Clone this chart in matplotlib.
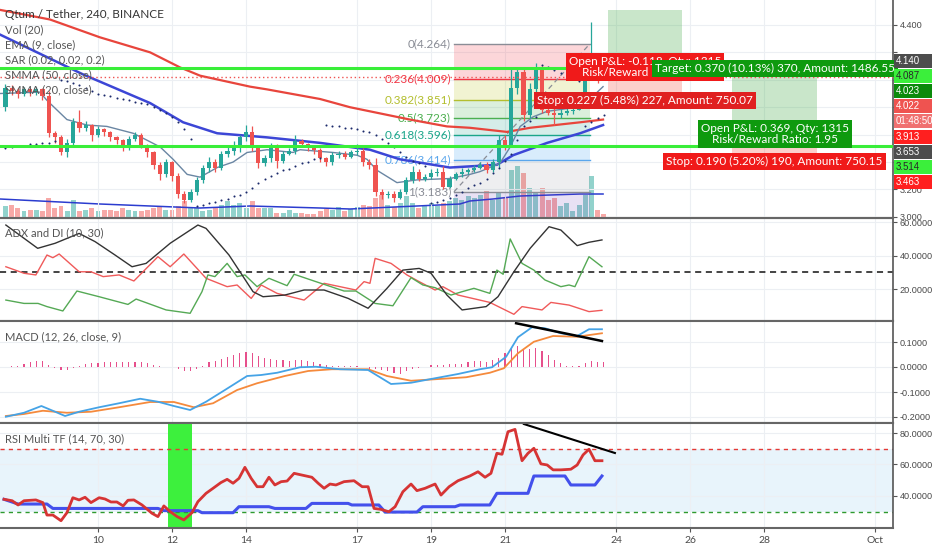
import numpy as np
import matplotlib
matplotlib.use("Agg")
import matplotlib.pyplot as plt
from matplotlib.patches import Rectangle

plt.rcParams['font.family'] = ['Lato', 'DejaVu Sans']

# ---------------------------------------------------------------- data
# 4h candles, Qtum/USDT (day of month, September)
opens = [3.80, 3.94, 3.92, 3.90, 3.93, 3.91, 3.93, 3.88, 3.61, 3.58,
         3.47, 3.54, 3.69, 3.65, 3.67, 3.60, 3.64, 3.62, 3.58, 3.56,
         3.51, 3.57, 3.60, 3.52, 3.47, 3.38, 3.31, 3.40, 3.30, 3.17,
         3.12, 3.18, 3.27, 3.36, 3.40, 3.36, 3.46, 3.48, 3.50, 3.58,
         3.62, 3.50, 3.39, 3.43, 3.52, 3.41, 3.46, 3.48, 3.55, 3.53,
         3.51, 3.49, 3.43, 3.40, 3.45, 3.46, 3.44, 3.47, 3.48, 3.40,
         3.38, 3.18, 3.16, 3.17, 3.14, 3.18, 3.27, 3.33, 3.28, 3.29,
         3.32, 3.33, 3.22, 3.28, 3.31, 3.33, 3.34, 3.36, 3.38, 3.34,
         3.40, 3.56, 3.52, 3.94, 4.06, 3.74, 3.93, 4.07, 3.78, 3.76,
         3.74, 3.76, 3.77, 3.78, 3.83, 4.02, 4.16, 4.05]
closes = [3.94, 3.92, 3.90, 3.93, 3.91, 3.93, 3.88, 3.61, 3.58, 3.47,
          3.54, 3.69, 3.65, 3.67, 3.60, 3.64, 3.62, 3.58, 3.56, 3.51,
          3.57, 3.60, 3.52, 3.47, 3.38, 3.31, 3.40, 3.30, 3.17, 3.12,
          3.18, 3.27, 3.36, 3.40, 3.36, 3.46, 3.48, 3.50, 3.58, 3.62,
          3.50, 3.39, 3.43, 3.52, 3.41, 3.46, 3.48, 3.55, 3.53, 3.51,
          3.49, 3.43, 3.40, 3.45, 3.46, 3.44, 3.47, 3.48, 3.40, 3.38,
          3.18, 3.16, 3.17, 3.14, 3.18, 3.27, 3.33, 3.28, 3.29, 3.32,
          3.33, 3.22, 3.28, 3.31, 3.33, 3.34, 3.36, 3.38, 3.34, 3.40,
          3.56, 3.52, 3.94, 4.06, 3.74, 3.93, 4.07, 3.78, 3.76, 3.74,
          3.76, 3.77, 3.78, 3.83, 4.00, 4.16, 4.05, 4.022]
highs = [3.97, 3.96, 3.94, 3.95, 3.94, 3.95, 3.94, 3.92, 3.63, 3.60,
         3.57, 3.72, 3.78, 3.70, 3.68, 3.66, 3.65, 3.63, 3.59, 3.57,
         3.59, 3.62, 3.61, 3.53, 3.48, 3.40, 3.42, 3.41, 3.32, 3.19,
         3.20, 3.29, 3.38, 3.44, 3.42, 3.48, 3.51, 3.55, 3.60, 3.67,
         3.66, 3.52, 3.45, 3.54, 3.53, 3.48, 3.50, 3.60, 3.57, 3.54,
         3.52, 3.50, 3.44, 3.47, 3.48, 3.48, 3.49, 3.53, 3.50, 3.42,
         3.43, 3.20, 3.19, 3.19, 3.20, 3.29, 3.37, 3.35, 3.31, 3.35,
         3.36, 3.37, 3.30, 3.33, 3.36, 3.36, 3.38, 3.40, 3.40, 3.42,
         3.60, 3.60, 4.09, 4.08, 4.08, 3.98, 4.12, 4.10, 3.84, 3.83,
         3.79, 3.80, 3.80, 3.86, 4.03, 4.42, 4.17, 4.06]
lows = [3.77, 3.89, 3.87, 3.88, 3.88, 3.89, 3.85, 3.58, 3.54, 3.45,
        3.44, 3.52, 3.62, 3.63, 3.55, 3.58, 3.59, 3.55, 3.53, 3.48,
        3.49, 3.55, 3.50, 3.44, 3.35, 3.27, 3.29, 3.26, 3.14, 3.10,
        3.11, 3.16, 3.25, 3.33, 3.33, 3.34, 3.44, 3.45, 3.47, 3.55,
        3.48, 3.36, 3.37, 3.40, 3.36, 3.39, 3.45, 3.46, 3.51, 3.48,
        3.46, 3.40, 3.37, 3.38, 3.43, 3.42, 3.43, 3.45, 3.37, 3.35,
        3.15, 3.13, 3.14, 3.11, 3.13, 3.17, 3.25, 3.26, 3.26, 3.28,
        3.30, 3.20, 3.21, 3.27, 3.29, 3.31, 3.33, 3.35, 3.32, 3.33,
        3.36, 3.49, 3.52, 3.90, 3.70, 3.72, 3.90, 3.76, 3.74, 3.67,
        3.72, 3.74, 3.75, 3.78, 3.82, 4.00, 3.98, 4.01]
volumes = [12, 13, 10, 7, 8, 8, 7, 20, 10, 12,
           7, 18, 7, 8, 10, 7, 8, 8, 7, 10,
           8, 7, 7, 8, 10, 12, 8, 8, 12, 17,
           10, 10, 7, 8, 10, 13, 17, 13, 15, 10,
           17, 10, 10, 10, 5, 5, 8, 5, 5, 4,
           4, 7, 9, 8, 11, 7, 9, 11, 13, 12,
           20, 23, 13, 11, 15, 22, 15, 10, 12, 15,
           12, 15, 17, 20, 18, 22, 20, 23, 27, 18,
           25, 20, 48, 52, 45, 30, 25, 30, 18, 20,
           12, 15, 7, 13, 23, 42, 8, 4]
sar = [3.50, 3.51, 3.52, 3.52, 3.53, 3.53, 3.54, 3.54, 3.55,
       4.00, 3.99, 3.98, 3.96, 3.94, 3.92, 3.90, 3.89, 3.88, 3.87, 3.86,
       3.85, 3.84, 3.83, 3.82, 3.80, 3.78, 3.76, 3.73, 3.69, 3.64, 3.57,
       3.08, 3.09, 3.10, 3.11, 3.12, 3.13, 3.15, 3.16, 3.18, 3.21, 3.25,
       3.28, 3.30, 3.32, 3.34, 3.35, 3.37, 3.39, 3.40, 3.42, 3.43,
       3.67, 3.66, 3.66, 3.65, 3.65, 3.64, 3.63, 3.62, 3.60, 3.57, 3.54,
       3.51, 3.47, 3.44, 3.41, 3.39, 3.37,
       3.10, 3.11, 3.12, 3.14, 3.16, 3.18, 3.21, 3.23, 3.25, 3.28, 3.32,
       3.36, 3.41, 3.46, 3.56, 3.66, 3.70, 3.73,
       4.11, 4.09, 4.07, 4.05, 4.03, 4.01, 3.99,
       3.66, 3.69, 3.72, 3.74]
first_candle_day = 7.5

# moving averages (day, value)
smma50_days = [7.35, 8.70, 10.05, 11.41, 12.22, 12.76, 14.11, 14.57, 16.0, 16.81,
               18.43, 19.43, 20.05, 21.05, 21.68, 23.03, 23.65]
smma50_vals = [4.51, 4.44, 4.31, 4.20, 4.09, 4.03, 3.95, 3.93, 3.86, 3.80,
               3.71, 3.66, 3.65, 3.62, 3.65, 3.69, 3.71]
smma20_days = [7.35, 9.59, 11.41, 12.30, 13.22, 14.57, 16.0, 17.35, 18.16, 19.51,
               20.78, 21.22, 22.14, 23.03, 23.65]
smma20_vals = [4.33, 4.04, 3.83, 3.69, 3.61, 3.58, 3.54, 3.49, 3.42, 3.36,
               3.38, 3.45, 3.54, 3.61, 3.67]
ema9_days = [7.35, 8.43, 8.62, 9.16, 9.70, 10.24, 10.95, 11.32, 11.68, 12.03,
             12.41, 12.76, 13.22, 13.65, 14.03, 14.57, 15.27, 15.46, 16.35, 17.0,
             17.27, 17.54, 18.08, 18.62, 19.51, 20.05, 20.32, 20.86, 21.14, 21.41,
             21.76, 22.14, 22.68, 23.22, 23.65]
ema9_vals = [3.90, 3.91, 3.85, 3.71, 3.67, 3.66, 3.61, 3.56, 3.51, 3.42,
             3.31, 3.29, 3.36, 3.40, 3.47, 3.49, 3.47, 3.49, 3.47, 3.45,
             3.42, 3.34, 3.25, 3.27, 3.28, 3.31, 3.33, 3.39, 3.51, 3.66,
             3.73, 3.77, 3.79, 3.84, 3.95]
volma_days = [7.35, 10.05, 11.41, 12.76, 14.11, 16.0, 16.81, 18.62, 19.78, 20.05,
              20.67, 21.41, 23.03, 23.65]
volma_vals = [19, 14, 12, 10, 12, 10, 9, 12, 14, 17, 19, 22, 24, 24]

# fibonacci retracement
fib_ratios = ['0', '0.236', '0.382', '0.5', '0.618', '0.786', '1']
fib_prices = [4.264, 4.009, 3.851, 3.723, 3.596, 3.414, 3.183]
fib_start, fib_end = 19.62, 23.30

# horizontal levels
green_levels = [4.087, 3.514]
last_price = 4.022

# long positions: start day, end day, entry, target, stop
positions = [(23.78, 25.78, 4.140, 4.510, 3.913),
             (27.14, 29.43, 3.653, 4.023, 3.463)]

# ADX and DI
adx_days = [7.51, 8.37, 8.84, 9.49, 9.92, 10.46, 10.92, 11.30, 11.95, 12.70, 12.92, 13.54,
            14.19, 14.46, 15.05, 15.57, 16.11, 16.76, 17.30, 17.81, 18.24, 18.68, 19.0,
            19.43, 19.84, 20.49, 20.81, 21.24, 21.68, 22.19, 22.51, 22.95, 23.27, 23.62]
adx_vals = [58.2, 44.3, 47.3, 53.2, 48.3, 40.3, 33.3, 35.3, 47.3, 58.2, 56.2, 40.3,
            18.4, 15.4, 16.4, 19.4, 19.4, 14.4, 8.5, 20.4, 31.3, 32.3, 29.4,
            16.4, 7.5, 9.5, 15.4, 30.3, 44.3, 57.2, 55.2, 45.9, 47.9, 49.3]
dim_days = [7.51, 8.00, 8.32, 8.62, 8.78, 8.95, 9.49, 9.81, 10.14, 10.57, 10.97, 11.62,
            11.95, 12.32, 12.92, 13.49, 13.76, 14.14, 14.41, 14.84, 15.57, 16.11, 16.54,
            16.97, 17.19, 17.35, 17.49, 17.92, 18.35, 18.68, 19.11, 19.32, 19.73, 20.59,
            21.24, 21.46, 22.0, 22.24, 22.73, 23.27, 23.62]
dim_vals = [33.3, 29.4, 28.4, 40.3, 38.7, 40.9, 30.3, 30.3, 27.4, 28.4, 24.8, 39.3,
            33.3, 40.9, 26.4, 21.4, 22.4, 14.4, 22.4, 17.4, 13.4, 23.4, 21.4,
            19.4, 24.4, 23.4, 38.3, 35.3, 28.4, 24.4, 19.4, 21.4, 16.4, 12.0,
            4.9, 9.5, 7.5, 12.0, 10.4, 6.5, 7.3]
dip_days = [7.51, 8.00, 8.38, 8.62, 9.05, 9.43, 10.03, 10.81, 11.03, 11.84, 12.49, 12.81,
            12.97, 13.16, 13.49, 13.76, 13.97, 14.30, 14.62, 15.11, 15.30, 15.89, 16.65,
            16.97, 17.49, 17.97, 18.46, 18.78, 19.11, 19.54, 19.84, 20.16, 20.59, 20.78,
            20.95, 21.14, 21.46, 21.78, 22.08, 22.51, 22.73, 22.89, 23.27, 23.62]
dip_vals = [13.4, 11.4, 11.4, 9.5, 6.9, 18.8, 15.4, 10.8, 14.0, 7.5, 5.5, 18.4,
            28.4, 27.4, 35.3, 27.4, 28.4, 21.4, 26.4, 22.0, 28.8, 24.4, 18.8,
            18.8, 11.4, 10.0, 26.8, 22.4, 20.8, 16.4, 18.4, 20.4, 17.4, 31.3,
            28.8, 49.9, 35.3, 31.3, 25.4, 21.4, 22.4, 21.4, 39.3, 33.3]
adx_level = 30

# MACD
macd_days = [7.51, 8.00, 8.47, 8.73, 9.11, 9.49, 10.03, 10.57, 11.14, 11.62, 12.05, 12.49,
             12.92, 13.43, 14.03, 14.41, 14.84, 15.46, 15.89, 16.54, 17.30, 17.92, 18.46,
             19.11, 19.73, 20.32, 20.65, 21.03, 21.35, 21.73, 22.08, 22.51, 22.95, 23.27, 23.62]
macd_vals = [-0.199, -0.183, -0.156, -0.172, -0.196, -0.179, -0.161, -0.145, -0.127, -0.139,
             -0.156, -0.172, -0.139, -0.092, -0.036, -0.032, -0.023, -0.001, 0.001, -0.009,
             -0.012, -0.068, -0.063, -0.045, -0.028, -0.009, -0.001, 0.041, 0.119, 0.159,
             0.155, 0.135, 0.124, 0.151, 0.151]
signal_days = [7.51, 8.00, 8.51, 9.16, 9.81, 10.57, 11.41, 12.05, 12.59, 13.11, 13.76, 14.30,
               15.05, 15.68, 16.32, 17.30, 17.81, 18.46, 19.11, 19.95, 20.59, 20.97, 21.35,
               21.78, 22.30, 22.95, 23.62]
signal_vals = [-0.196, -0.188, -0.175, -0.183, -0.179, -0.161, -0.140, -0.140, -0.161, -0.145,
               -0.092, -0.065, -0.036, -0.016, -0.009, -0.009, -0.036, -0.055, -0.049, -0.041,
               -0.023, -0.005, 0.055, 0.101, 0.124, 0.121, 0.135]
macd_hist = [0.000, 0.003, 0.005, 0.012, 0.019, 0.025, 0.023, 0.007, -0.004, -0.011,
             -0.013, -0.004, 0.005, 0.012, 0.016, 0.016, 0.021, 0.021, 0.020, 0.019,
             0.019, 0.021, 0.019, 0.016, 0.009, 0.003, 0.000, 0.000, -0.008, -0.017,
             -0.017, -0.008, 0.003, 0.019, 0.025, 0.032, 0.040, 0.047, 0.056, 0.059,
             0.056, 0.045, 0.036, 0.032, 0.027, 0.027, 0.024, 0.029, 0.027, 0.023,
             0.019, 0.013, 0.007, 0.005, 0.005, 0.005, 0.005, 0.005, 0.000, -0.008,
             -0.008, -0.013, -0.017, -0.024, -0.027, -0.017, -0.008, -0.004, 0.000, 0.007,
             0.007, 0.009, 0.012, 0.012, 0.013, 0.019, 0.023, 0.023, 0.020, 0.027,
             0.036, 0.056, 0.072, 0.085, 0.072, 0.072, 0.076, 0.063, 0.049, 0.027,
             0.016, 0.005, 0.003, 0.003, 0.016, 0.023, 0.019, 0.019]
macd_trend_days = [21.30, 23.62]
macd_trend_vals = [0.175, 0.104]

# RSI multi timeframe
rsi_days = [7.46, 7.68, 7.84, 8.00, 8.32, 8.51, 8.62, 8.78, 9.00, 9.16, 9.32, 9.49, 9.65,
            9.81, 10.03, 10.19, 10.35, 10.51, 10.68, 10.81, 10.97, 11.19, 11.46, 11.62,
            11.78, 11.95, 12.14, 12.32, 12.54, 12.70, 12.92, 13.11, 13.32, 13.49, 13.65,
            13.81, 13.97, 14.14, 14.30, 14.46, 14.62, 14.78, 14.95, 15.11, 15.30, 15.51,
            15.78, 15.95, 16.11, 16.27, 16.43, 16.65, 16.92, 17.14, 17.30, 17.46, 17.65,
            17.86, 18.03, 18.24, 18.46, 18.62, 18.84, 19.11, 19.27, 19.49, 19.73, 20.05,
            20.27, 20.46, 20.62, 20.78, 20.92, 21.08, 21.27, 21.46, 21.62, 21.78, 21.97,
            22.14, 22.30, 22.51, 22.78, 22.95, 23.11, 23.27, 23.43, 23.62]
rsi_vals = [37.9, 37.0, 34.3, 37.0, 37.5, 35.8, 27.9, 27.9, 24.3, 29.4, 38.9, 37.5, 39.2,
            35.8, 38.9, 38.1, 36.2, 36.2, 33.7, 37.3, 37.5, 34.3, 29.0, 26.9,
            33.7, 30.1, 26.9, 24.8, 29.4, 36.4, 41.7, 44.9, 48.5, 50.6, 48.1,
            51.2, 58.2, 51.2, 45.9, 45.9, 51.9, 47.0, 49.1, 49.5, 54.4, 53.3,
            51.9, 48.1, 44.9, 47.6, 47.0, 49.1, 49.7, 45.9, 45.9, 32.1, 31.5,
            30.0, 33.2, 42.7, 47.6, 43.4, 44.9, 47.6, 40.6, 45.9, 49.7, 52.7,
            55.4, 51.9, 54.4, 67.1, 66.5, 80.8, 82.3, 62.4, 67.1, 70.3, 60.4,
            59.7, 56.6, 56.6, 57.0, 59.7, 66.1, 69.7, 62.4, 62.4]
rsi_htf_days = [7.46, 7.84, 8.62, 8.78, 11.62, 11.78, 12.70, 12.81, 13.65, 13.81, 14.62,
                14.78, 15.62, 15.78, 16.76, 16.86, 17.59, 17.76, 18.62, 18.78, 19.65,
                19.78, 20.59, 20.78, 21.62, 21.78, 22.62, 22.78, 23.43, 23.62]
rsi_htf_vals = [37.9, 34.9, 34.9, 32.1, 32.1, 30.7, 30.7, 29.4, 29.4, 33.2, 33.2,
                32.1, 32.1, 35.3, 35.3, 34.3, 34.3, 29.8, 29.8, 33.2, 33.2,
                34.3, 34.3, 41.7, 41.7, 52.7, 52.7, 47.0, 47.0, 52.7]
rsi_upper, rsi_lower = 70, 30
rsi_highlight = (11.89, 12.54)
rsi_trend_days = [21.51, 23.97]
rsi_trend_vals = [85.7, 67.3]

day_ticks = [10, 12, 14, 17, 19, 21, 24, 26, 28, 31]
day_labels = ['10', '12', '14', '17', '19', '21', '24', '26', '28', 'Oct']

# main price scale: grid levels, and the labels left visible by the price tags
price_ticks = [3.0, 3.2, 3.4, 3.6, 3.8, 4.0, 4.2, 4.4]
price_ticks_shown = [3.0, 3.2, 4.4]

# right-hand price labels: text, price, background, foreground
price_labels = [("4.140", 4.140, '#4d4d4d', 'white'),
                ("4.087", 4.087, '#3bef3b', '#2a2a2a'),
                ("4.023", 4.023, '#0b8a0b', 'white'),
                ("4.022", 4.022, '#ef5350', 'white'),
                ("01:48:50", 4.022, '#f07070', 'white'),
                ("3.913", 3.913, '#ff1f1f', 'white'),
                ("3.653", 3.653, '#4d4d4d', 'white'),
                ("3.514", 3.514, '#3bef3b', '#2a2a2a'),
                ("3.463", 3.463, '#ff1f1f', 'white')]

# ---------------------------------------------------------------- figure
W, H = 932, 550
fig = plt.figure(figsize=(W / 100, H / 100), dpi=100)
fig.patch.set_facecolor('white')

X0, X1 = 7.3514, 31.486
AXW = 893 / W
NUMFONT = ['Liberation Sans', 'DejaVu Sans']
NUMSIZE = 6.6


def px_rect(top, bottom):
    return [0, 1 - bottom / H, AXW, (bottom - top) / H]


ax = fig.add_axes(px_rect(0, 218))
adx_ax = fig.add_axes(px_rect(218, 321), sharex=ax)
macd_ax = fig.add_axes(px_rect(321, 423), sharex=ax)
rsi_ax = fig.add_axes(px_rect(423, 528), sharex=ax)

TXT = '#4a4a4a'
GRID = '#eceff3'
SEP = '#666666'


def style(a, yt, labels, top=True):
    a.set_xlim(X0, X1)
    a.yaxis.tick_right()
    a.set_yticks(yt)
    a.set_yticklabels(labels, fontsize=NUMSIZE, color=TXT, family=NUMFONT)
    a.tick_params(axis='y', length=3, color='#555555', pad=2)
    a.set_xticks(day_ticks)
    a.tick_params(axis='x', length=0, labelbottom=False)
    a.grid(True, color=GRID, lw=0.8)
    a.set_axisbelow(True)
    a.spines['left'].set_visible(False)
    a.spines['right'].set_color('#555555')
    a.spines['right'].set_linewidth(1.2)
    a.spines['top'].set_visible(top)
    a.spines['top'].set_color(SEP)
    a.spines['top'].set_linewidth(1.5)
    a.spines['bottom'].set_color(SEP)
    a.spines['bottom'].set_linewidth(1.5)


def fmt_list(vals, fmt):
    return [fmt % v for v in vals]


# ---------------- main price panel
t = first_candle_day + np.arange(len(closes)) / 6.0
o = np.array(opens)
c = np.array(closes)
up = c >= o

vol_ax = ax.twinx()
ax.set_zorder(vol_ax.get_zorder() + 1)
ax.patch.set_visible(False)
vol_ax.set_ylim(0, 218)
vol_ax.yaxis.set_visible(False)
for s in vol_ax.spines.values():
    s.set_visible(False)
vcol = np.where(up, '#92d2cc', '#f7a9a7')
vol_ax.bar(t, volumes, width=0.135, color=vcol, linewidth=0)
vol_ax.plot(volma_days, volma_vals, color='#2b3ccf', lw=1.1)

ax.set_ylim(2.992, 4.582)
style(ax, price_ticks, [('%.3f' % v) if v in price_ticks_shown else '' for v in price_ticks],
      top=False)

# fib retracement
band_cols = [('#f23645', 0.20), ('#c0ca33', 0.22), ('#4caf50', 0.20), ('#089981', 0.17),
             ('#64b5f6', 0.25), ('#787b86', 0.12)]
for k in range(len(fib_prices) - 1):
    col, al = band_cols[k]
    ax.add_patch(Rectangle((fib_start, fib_prices[k + 1]), fib_end - fib_start,
                           fib_prices[k] - fib_prices[k + 1], facecolor=col, alpha=al,
                           edgecolor='none', zorder=1))
ax.add_patch(Rectangle((fib_start, 2.992), fib_end - fib_start, fib_prices[-1] - 2.992,
                       facecolor='#673ab7', alpha=0.15, edgecolor='none', zorder=1))
fib_line_cols = ['#8a8d96', '#f23645', '#b3be2e', '#4caf50', '#1aa58a', '#5aa6ec', '#8a8d96']
for r, p, col in zip(fib_ratios, fib_prices, fib_line_cols):
    ax.plot([fib_start, fib_end], [p, p], color=col, lw=1, zorder=2)
    ax.text(fib_start - 0.08, p, f"{r}({p:.3f})", color=col, fontsize=8.5,
            ha='right', va='center', zorder=3)
ax.plot([fib_start, fib_end], [fib_prices[-1], fib_prices[0]], color='#8a8d96',
        lw=0.9, ls=(0, (4, 3)), zorder=2)

# position tools
for d0, d1, entry, target, stop in positions:
    ax.add_patch(Rectangle((d0, entry), d1 - d0, target - entry, facecolor='#4caf50',
                           alpha=0.3, edgecolor='none', zorder=1))
    ax.add_patch(Rectangle((d0, stop), d1 - d0, entry - stop, facecolor='#f44336',
                           alpha=0.25, edgecolor='none', zorder=1))

# moving averages
ax.plot(smma50_days, smma50_vals, color='#e8453c', lw=1.6, zorder=4)
ax.plot(smma20_days, smma20_vals, color='#3c46d6', lw=1.8, zorder=4)
ax.plot(ema9_days, ema9_vals, color='#6a86a3', lw=1.0, zorder=4)

# candles
ccol = np.where(up, '#26a69a', '#ef5350')
ax.vlines(t, lows, highs, colors=ccol, lw=0.9, zorder=5)
ax.bar(t, np.maximum(np.abs(c - o), 0.006), bottom=np.minimum(o, c), width=0.11,
       color=ccol, linewidth=0, zorder=6)

# parabolic SAR
ax.scatter(t, sar, s=2.2, color='#1b2a6b', zorder=7, linewidths=0)

# horizontal levels
for p in green_levels:
    ax.axhline(p, color='#39ee39', lw=2.2, zorder=7)
ax.axhline(last_price, color='#ef5350', lw=1.0, ls=(0, (1, 2)), zorder=7)

# position labels
RED_BOX = '#f01a1a'
GREEN_BOX = '#0e9a0e'


def box_label(x, y, text, fc, dy, va):
    ax.annotate(text, xy=(x, y), xytext=(0, dy), textcoords='offset points',
                ha='center', va=va, fontsize=8.5, color='white', linespacing=1.0,
                bbox=dict(boxstyle='square,pad=0.25', fc=fc, ec='none'),
                zorder=20, annotation_clip=False)


p1, p2 = positions
cx1 = (p1[0] + p1[1]) / 2
cx2 = (p2[0] + p2[1]) / 2
box_label(cx1, p1[2], f"Open P&L: {last_price - p1[2]:.3f}, Qty: 1315\n"
          f"Risk/Reward Ratio: {(p1[3] - p1[2]) / (p1[2] - p1[4]):.2f}", RED_BOX, -4.5, 'center')
box_label(cx1, p1[4], "Stop: 0.227 (5.48%) 227, Amount: 750.07", '#e02020', -2, 'top')
box_label(cx2, p2[3], "Target: 0.370 (10.13%) 370, Amount: 1486.55", GREEN_BOX, 2, 'bottom')
box_label(cx2, p2[2], f"Open P&L: {last_price - p2[2]:.3f}, Qty: 1315\n"
          f"Risk/Reward Ratio: {(p2[3] - p2[2]) / (p2[2] - p2[4]):.2f}", GREEN_BOX, -4.5, 'center')
box_label(cx2, p2[4], "Stop: 0.190 (5.20%) 190, Amount: 750.15", RED_BOX, -2, 'top')

# ---------------- ADX panel
adx_ax.set_ylim(0.9, 62.4)
style(adx_ax, [20, 40, 60], fmt_list([20, 40, 60], '%.4f'))
adx_ax.axhline(adx_level, color='#111111', lw=1.1, ls=(0, (4, 3)))
adx_ax.plot(dim_days, dim_vals, color='#f05a5a', lw=1.0)
adx_ax.plot(dip_days, dip_vals, color='#55a955', lw=1.0)
adx_ax.plot(adx_days, adx_vals, color='#333333', lw=1.0)

# ---------------- MACD panel
macd_ax.set_ylim(-0.224, 0.184)
style(macd_ax, [-0.2, -0.1, 0.0, 0.1], fmt_list([-0.2, -0.1, 0.0, 0.1], '%.4f'))
macd_ax.bar(t, macd_hist, width=0.035, color='#e6508c', linewidth=0)
macd_ax.plot(signal_days, signal_vals, color='#f58a3c', lw=1.3)
macd_ax.plot(macd_days, macd_vals, color='#45a3e6', lw=1.3)
macd_ax.plot(macd_trend_days, macd_trend_vals, color='black', lw=1.8, clip_on=False)

# ---------------- RSI panel
rsi_ax.set_ylim(19.68, 86.35)
style(rsi_ax, [40, 60, 80], fmt_list([40, 60, 80], '%.4f'))
rsi_ax.axhspan(rsi_lower, rsi_upper, color='#e8f4fb', zorder=0.5, lw=0)
rsi_ax.axvspan(*rsi_highlight, color='#3df03d', zorder=1, lw=0)
rsi_ax.axhline(rsi_upper, color='#e53935', lw=1.0, ls=(0, (3, 3)))
rsi_ax.axhline(rsi_lower, color='#2e9a2e', lw=1.0, ls=(0, (3, 3)))
rsi_ax.plot(rsi_htf_days, rsi_htf_vals, color='#4350ec', lw=2.2)
rsi_ax.plot(rsi_days, rsi_vals, color='#d63434', lw=2.0)
rsi_ax.plot(rsi_trend_days, rsi_trend_vals, color='black', lw=1.5, clip_on=False)
rsi_ax.set_xticks(day_ticks)
rsi_ax.set_xticklabels(day_labels)
rsi_ax.tick_params(axis='x', length=3, color='#555555', labelbottom=True,
                   labelsize=7.5, labelcolor=TXT, pad=3)
rsi_ax.set_xlim(X0, X1)


# ---------------- texts (pixel positions)
def ftext(px, py, s, **kw):
    fig.text(px / W, 1 - py / H, s, **kw)


ftext(5, 14, "Qtum / Tether, 240, BINANCE", fontsize=8.5, color='#333333', va='center')
legend_items = ["Vol (20)", "EMA (9, close)", "SAR (0.02, 0.02, 0.2)",
                "SMMA (50, close)", "SMMA (20, close)"]
for k, s in enumerate(legend_items):
    ftext(5, 30 + 15 * k, s, fontsize=8, color='#555555', va='center')
ftext(5, 233, "ADX and DI (10, 30)", fontsize=8, color='#555555', va='center')
ftext(5, 337, "MACD (12, 26, close, 9)", fontsize=8, color='#555555', va='center')
ftext(5, 439, "RSI Multi TF (14, 70, 30)", fontsize=8, color='#555555', va='center')

# right-hand price scale labels, stacked like the chart does
prev = -1e9
for text, price, bg, fg in price_labels:
    ytrue = H - ax.transData.transform((X0, price))[1]
    y = max(ytrue, prev + 15.2)
    prev = y
    fig.add_artist(Rectangle((893.5 / W, 1 - (y + 7) / H), 38.5 / W, 14 / H,
                             transform=fig.transFigure, facecolor=bg, edgecolor='none',
                             zorder=10))
    ftext(896, y, text, fontsize=NUMSIZE + 0.4, color=fg, va='center', ha='left',
          zorder=11, family=NUMFONT)

fig.savefig("out.png", dpi=100)
